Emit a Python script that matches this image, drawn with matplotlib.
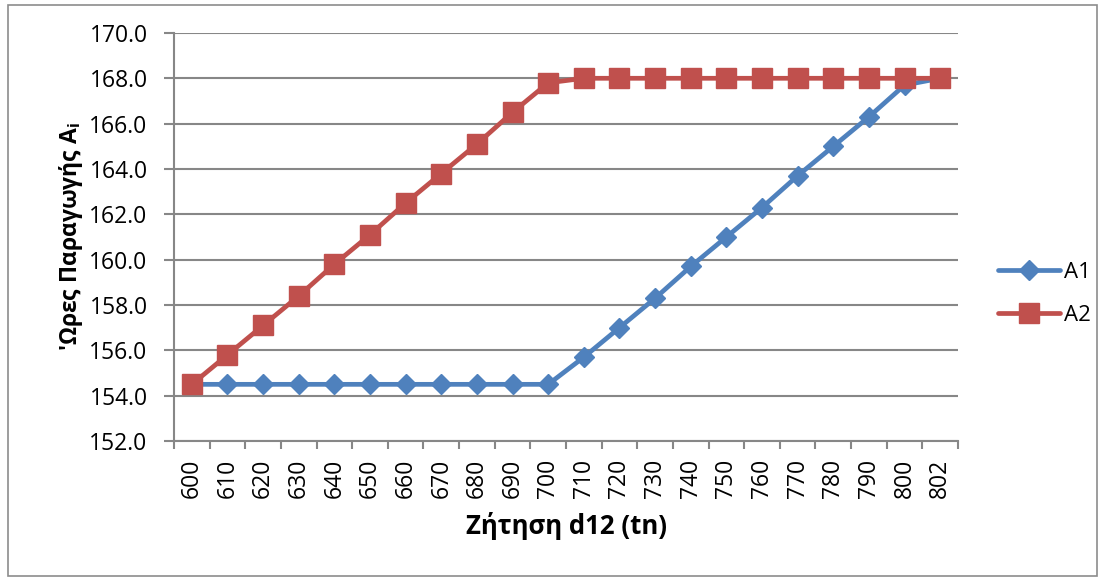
import matplotlib
matplotlib.use("Agg")
import matplotlib.pyplot as plt
from matplotlib.patches import Rectangle
from matplotlib.ticker import FixedLocator, FuncFormatter

plt.rcParams['font.family'] = ['Open Sans', 'DejaVu Sans']
plt.rcParams['mathtext.fontset'] = 'custom'
plt.rcParams['mathtext.bf'] = 'Open Sans:bold'
plt.rcParams['mathtext.rm'] = 'Open Sans'

# Demand levels (category axis)
demand = ["600", "610", "620", "630", "640", "650", "660", "670", "680", "690",
          "700", "710", "720", "730", "740", "750", "760", "770", "780", "790",
          "800", "802"]

# Production hours for each unit
a1_hours = [154.5, 154.5, 154.5, 154.5, 154.5, 154.5, 154.5, 154.5, 154.5, 154.5,
            154.5, 155.7, 157.0, 158.3, 159.7, 161.0, 162.3, 163.7, 165.0, 166.3,
            167.7, 168.0]
a2_hours = [154.5, 155.8, 157.1, 158.4, 159.8, 161.1, 162.5, 163.8, 165.1, 166.5,
            167.8, 168.0, 168.0, 168.0, 168.0, 168.0, 168.0, 168.0, 168.0, 168.0,
            168.0, 168.0]

y_ticks = [152, 154, 156, 158, 160, 162, 164, 166, 168, 170]

BLUE = "#4F81BD"
RED = "#C0504D"
GRID = "#878787"

fig = plt.figure(figsize=(11.05, 5.78), dpi=100)
ax = fig.add_axes([0.1575, 0.237, 0.7095, 0.706])

x = list(range(len(demand)))
ax.plot(x, a1_hours, color=BLUE, lw=3.4, marker='D', ms=10.5,
        solid_capstyle='round', label="A1", zorder=2)
ax.plot(x, a2_hours, color=RED, lw=3.4, marker='s', ms=14,
        solid_capstyle='round', label="A2", zorder=3)

ax.set_xlim(-0.5, len(demand) - 0.5)
ax.set_ylim(152, 170)

ax.set_yticks(y_ticks)
ax.yaxis.set_major_formatter(FuncFormatter(lambda v, p: f"{v:.1f}"))
ax.set_xticks(x)
ax.set_xticklabels(demand, rotation=90)
ax.xaxis.set_minor_locator(FixedLocator([i - 0.5 for i in range(len(demand) + 1)]))

ax.tick_params(axis='x', which='major', length=0, pad=13, labelsize=16.5)
ax.tick_params(axis='x', which='minor', length=6, width=1.5, color=GRID)
ax.tick_params(axis='y', which='major', length=7, width=1.5, color=GRID,
               labelsize=16.5, pad=12)

ax.grid(axis='y', color=GRID, lw=1.5)
ax.set_axisbelow(True)
for side in ('top', 'right'):
    ax.spines[side].set_visible(False)
for side in ('left', 'bottom'):
    ax.spines[side].set_color(GRID)
    ax.spines[side].set_linewidth(1.5)

ax.set_xlabel("Ζήτηση d12 (tn)", fontsize=18.5, fontweight='bold', labelpad=10)
ax.set_ylabel(r"'Ωρες Παραγωγής $\mathbf{A_i}$", fontsize=16.5, fontweight='bold',
              labelpad=3)

leg = ax.legend(loc='center left', bbox_to_anchor=(1.025, 0.36), frameon=False,
                fontsize=16, handlelength=2.8, labelspacing=1.0,
                handletextpad=0.2)

fig.patches.append(Rectangle((0.007, 0.004), 0.986, 0.988, transform=fig.transFigure,
                             fill=False, edgecolor="#8c8c8c", lw=1.2))

fig.savefig("out.png", dpi=100)
